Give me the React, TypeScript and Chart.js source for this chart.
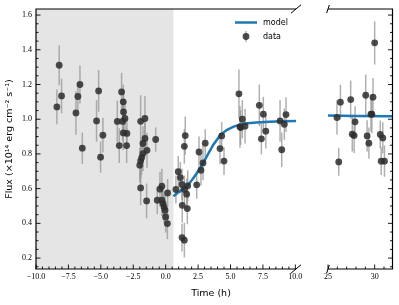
import React, { useEffect, useRef } from "react";
import { Chart, registerables } from "chart.js";
Chart.register(...registerables);

const W = 399;
const H = 305;

// Early-time panel data (hours)
const earlyTime = [
  -8.39, -8.21, -8.03, -6.92, -6.77, -6.61, -6.43, -5.33, -5.17, -5.02, -4.84,
  -3.73, -3.58, -3.40, -3.32, -3.27, -3.25, -3.14, -3.27, -2.99, -3.01,
  -2.00, -1.93, -1.85, -1.75, -1.93, -1.60, -1.60, -1.75, -1.44, -0.77,
  -1.93, -1.47, -0.65, -0.44, -0.29, -0.29, -0.21, -0.13, -0.05, 0.00, 0.13, 0.15,
  0.79, 0.97, 1.13, 1.26, 1.28, 1.26, 1.44, 1.44, 1.62, 1.70, 1.67, 1.51, 1.44,
  2.39, 2.57, 2.72, 2.88, 3.05, 4.19, 4.32, 4.50, 5.65, 5.73, 5.91, 5.78, 6.12,
  7.22, 7.53, 7.72, 7.38, 8.82, 8.95, 9.15, 9.28,
];
const earlyFlux = [
  1.071, 1.311, 1.134, 1.036, 1.131, 1.2, 0.833, 0.99, 1.163, 0.781, 0.908,
  0.987, 0.848, 1.157, 0.987, 1.1, 1.042, 1.004, 0.921, 0.918, 0.848,
  0.735, 0.76, 0.779, 0.802, 0.988, 1.004, 0.889, 0.86, 0.821, 0.883,
  0.604, 0.529, 0.533, 0.597, 0.614, 0.533, 0.514, 0.494, 0.476, 0.437, 0.399, 0.575,
  0.595, 0.698, 0.664, 0.624, 0.504, 0.318, 0.303, 0.595, 0.568, 0.616, 0.485, 0.906, 0.844,
  0.622, 0.811, 0.706, 0.748, 0.862, 0.831, 0.904, 0.759, 1.146, 0.956, 1.0, 0.952, 0.96,
  1.08, 1.029, 0.931, 0.887, 0.99, 0.824, 0.971, 1.027,
];
const earlyErr = [
  0.1, 0.115, 0.1, 0.125, 0.08, 0.11, 0.09, 0.12, 0.12, 0.09, 0.1,
  0.12, 0.1, 0.11, 0.11, 0.1, 0.12, 0.1, 0.1, 0.09, 0.1,
  0.1, 0.1, 0.1, 0.1, 0.15, 0.13, 0.1, 0.1, 0.1, 0.07,
  0.1, 0.1, 0.08, 0.1, 0.1, 0.09, 0.09, 0.09, 0.09, 0.09, 0.09, 0.08,
  0.08, 0.09, 0.09, 0.09, 0.1, 0.08, 0.1, 0.08, 0.09, 0.09, 0.09, 0.11, 0.1,
  0.08, 0.09, 0.09, 0.1, 0.08, 0.09, 0.08, 0.08, 0.14, 0.12, 0.11, 0.1, 0.1,
  0.12, 0.1, 0.1, 0.09, 0.12, 0.1, 0.09, 0.1,
];

// Late-time panel data
const lateTime = [
  25.96, 26.15, 26.33, 27.43, 27.6, 27.8, 27.9, 29.04, 29.19, 29.38, 29.6, 29.7,
  29.82, 30.0, 30.6, 30.7, 30.87, 31.05,
];
const lateFlux = [
  1.01, 0.754, 1.098, 1.113, 0.914, 0.906, 0.985, 1.138, 0.904, 0.862, 1.029, 1.029,
  1.127, 1.44, 0.912, 0.758, 0.892, 0.758,
];
const lateErr = [
  0.1, 0.08, 0.1, 0.11, 0.1, 0.1, 0.09, 0.12, 0.09, 0.09, 0.1, 0.11,
  0.11, 0.125, 0.08, 0.08, 0.09, 0.09,
];

// Model curve
const modelTimeEarly = [0.6, 1.0, 1.6, 2.1, 2.65, 3.15, 3.65, 4.2, 4.7, 5.2, 5.7, 6.1, 7.0, 8.0, 9.0, 10.05];
const modelFluxEarly = [0.556, 0.58, 0.61, 0.657, 0.716, 0.783, 0.85, 0.907, 0.937, 0.956, 0.969, 0.975, 0.981, 0.985, 0.988, 0.99];
const modelTimeLate = [25, 28, 31.91];
const modelFluxLate = [1.021, 1.019, 1.017];

const xTicksEarly = [-10, -7.5, -5, -2.5, 0, 2.5, 5, 7.5, 10];
const xTicksLate = [25, 30];
const yTicks = [0.2, 0.4, 0.6, 0.8, 1.0, 1.2, 1.4, 1.6];
const shadeStart = -10;
const shadeEnd = 0.6;

const Y_MIN = 0.137;
const Y_MAX = 1.635;
const TICK_FONT = { family: "Liberation Serif", size: 8 };
const LABEL_FONT = "9.5px 'DejaVu Sans'";
const LEGEND_FONT = "8px 'DejaVu Sans'";
const POINT_COLOR = "rgba(45,45,45,0.85)";
const ERR_COLOR = "rgba(150,150,150,0.75)";
const MODEL_COLOR = "#1f77b4";

function toXY(xs: number[], ys: number[]) {
  return xs.map((x, i) => ({ x, y: ys[i] }));
}

function fmtTick(v: number, dec: number) {
  return v.toFixed(dec).replace("-", "\u2212");
}

function drawErrorBars(chart: any) {
  const ctx = chart.ctx;
  const xs = chart.scales.x;
  const ys = chart.scales.y;
  const area = chart.chartArea;
  ctx.save();
  ctx.beginPath();
  ctx.rect(area.left, area.top, area.right - area.left, area.bottom - area.top);
  ctx.clip();
  chart.data.datasets.forEach((ds: any) => {
    if (!ds.errors) return;
    ctx.strokeStyle = ERR_COLOR;
    ctx.lineWidth = 1.5;
    ds.data.forEach((p: any, i: number) => {
      const x = xs.getPixelForValue(p.x);
      ctx.beginPath();
      ctx.moveTo(x, ys.getPixelForValue(p.y - ds.errors[i]));
      ctx.lineTo(x, ys.getPixelForValue(p.y + ds.errors[i]));
      ctx.stroke();
    });
  });
  ctx.restore();
}

function drawTicks(ctx: CanvasRenderingContext2D, chart: any, opts: { xMinor: number; side: "left" | "right" }) {
  const xs = chart.scales.x;
  const ys = chart.scales.y;
  const a = chart.chartArea;
  ctx.save();
  ctx.strokeStyle = "#000";
  ctx.lineWidth = 0.9;
  // x ticks (bottom, inward)
  const x0 = xs.min;
  const x1 = xs.max;
  const start = Math.ceil(x0 / opts.xMinor - 1e-9) * opts.xMinor;
  for (let v = start; v <= x1 + 1e-9; v += opts.xMinor) {
    const px = xs.getPixelForValue(v);
    const major = xs.ticks.some((t: any) => Math.abs(t.value - v) < 1e-6);
    const len = major ? 4.5 : 2.5;
    ctx.beginPath();
    ctx.moveTo(px, a.bottom);
    ctx.lineTo(px, a.bottom - len);
    ctx.stroke();
  }
  // y ticks
  const yStart = Math.ceil(Y_MIN / 0.05 - 1e-9) * 0.05;
  for (let v = yStart; v <= Y_MAX + 1e-9; v += 0.05) {
    const py = ys.getPixelForValue(v);
    const major = yTicks.some((t) => Math.abs(t - v) < 1e-6);
    const len = major ? 4.5 : 2.5;
    const bx = opts.side === "left" ? a.left : a.right;
    const dir = opts.side === "left" ? 1 : -1;
    ctx.beginPath();
    ctx.moveTo(bx, py);
    ctx.lineTo(bx + dir * len, py);
    ctx.stroke();
  }
  ctx.restore();
}

const earlyPlugin = {
  id: "earlyPanel",
  beforeDatasetsDraw(chart: any) {
    const ctx = chart.ctx;
    const xs = chart.scales.x;
    const a = chart.chartArea;
    ctx.save();
    ctx.fillStyle = "#e5e5e5";
    const l = xs.getPixelForValue(shadeStart);
    const r = xs.getPixelForValue(shadeEnd);
    ctx.fillRect(l, a.top, r - l, a.bottom - a.top);
    ctx.restore();
    drawErrorBars(chart);
  },
  afterDraw(chart: any) {
    const ctx = chart.ctx as CanvasRenderingContext2D;
    const a = chart.chartArea;
    drawTicks(ctx, chart, { xMinor: 0.5, side: "left" });
    ctx.save();
    ctx.strokeStyle = "#000";
    ctx.lineWidth = 1.2;
    ctx.beginPath();
    ctx.moveTo(a.right, a.top);
    ctx.lineTo(a.left, a.top);
    ctx.lineTo(a.left, a.bottom);
    ctx.lineTo(a.right, a.bottom);
    ctx.stroke();
    // break marks
    ctx.lineWidth = 1.0;
    ctx.beginPath();
    ctx.moveTo(a.right - 5, a.top + 4.2);
    ctx.lineTo(a.right + 5, a.top - 4.2);
    ctx.moveTo(a.right - 5, a.bottom + 4.2);
    ctx.lineTo(a.right + 5, a.bottom - 4.2);
    ctx.stroke();

    // legend
    const lx = 235;
    ctx.strokeStyle = MODEL_COLOR;
    ctx.lineWidth = 2.5;
    ctx.beginPath();
    ctx.moveTo(lx, 22.5);
    ctx.lineTo(lx + 22, 22.5);
    ctx.stroke();
    ctx.strokeStyle = ERR_COLOR;
    ctx.lineWidth = 1.5;
    ctx.beginPath();
    ctx.moveTo(lx + 11, 31);
    ctx.lineTo(lx + 11, 42);
    ctx.stroke();
    ctx.fillStyle = POINT_COLOR;
    ctx.beginPath();
    ctx.arc(lx + 11, 36.5, 3.4, 0, Math.PI * 2);
    ctx.fill();
    ctx.fillStyle = "#000";
    ctx.font = LEGEND_FONT;
    ctx.textBaseline = "middle";
    ctx.textAlign = "left";
    ctx.fillText("model", 263, 23);
    ctx.fillText("data", 263, 37);

    // axis titles
    ctx.font = LABEL_FONT;
    ctx.textAlign = "center";
    ctx.fillText("Time (h)", 211, 294);
    ctx.translate(10, 139);
    ctx.rotate(-Math.PI / 2);
    ctx.fillText("Flux (\u00d710\u00b9\u2074 erg cm\u207b\u00b2 s\u207b\u00b9)", 0, 0);
    ctx.restore();
  },
};

const latePlugin = {
  id: "latePanel",
  beforeDatasetsDraw(chart: any) {
    drawErrorBars(chart);
  },
  afterDraw(chart: any) {
    const ctx = chart.ctx as CanvasRenderingContext2D;
    const a = chart.chartArea;
    drawTicks(ctx, chart, { xMinor: 1, side: "right" });
    ctx.save();
    ctx.strokeStyle = "#000";
    ctx.lineWidth = 1.2;
    ctx.beginPath();
    ctx.moveTo(a.left, a.top);
    ctx.lineTo(a.right, a.top);
    ctx.lineTo(a.right, a.bottom);
    ctx.lineTo(a.left, a.bottom);
    ctx.stroke();
    ctx.lineWidth = 1.0;
    ctx.beginPath();
    ctx.moveTo(a.left - 1.3, a.top + 4);
    ctx.lineTo(a.left + 1.3, a.top - 4);
    ctx.moveTo(a.left - 1.3, a.bottom + 4);
    ctx.lineTo(a.left + 1.3, a.bottom - 4);
    ctx.stroke();
    ctx.restore();
  },
};

function makeConfig(opts: {
  time: number[];
  flux: number[];
  err: number[];
  mt: number[];
  mf: number[];
  xmin: number;
  xmax: number;
  xticks: number[];
  dec: number;
  padding: any;
  yPos: "left" | "right";
  yWidth: number;
  showY: boolean;
  plugin: any;
}): any {
  return {
    type: "scatter",
    data: {
      datasets: [
        {
          label: "data",
          data: toXY(opts.time, opts.flux),
          errors: opts.err,
          pointRadius: 3.4,
          pointBackgroundColor: POINT_COLOR,
          pointBorderColor: POINT_COLOR,
          pointBorderWidth: 0,
          showLine: false,
        },
        {
          label: "model",
          data: toXY(opts.mt, opts.mf),
          showLine: true,
          borderColor: MODEL_COLOR,
          borderWidth: 2.5,
          pointRadius: 0,
          fill: false,
          tension: 0,
        },
      ],
    },
    options: {
      animation: false,
      responsive: false,
      events: [],
      layout: { padding: opts.padding },
      plugins: { legend: { display: false }, tooltip: { enabled: false } },
      scales: {
        x: {
          type: "linear",
          min: opts.xmin,
          max: opts.xmax,
          grid: { display: false, drawTicks: false },
          border: { display: false },
          afterBuildTicks: (s: any) => {
            s.ticks = opts.xticks.map((v) => ({ value: v }));
          },
          afterFit: (s: any) => {
            s.height = 36;
          },
          ticks: {
            autoSkip: false,
            maxRotation: 0,
            padding: 3,
            color: "#000",
            font: TICK_FONT,
            callback: (v: any) => fmtTick(Number(v), opts.dec),
          },
        },
        y: {
          type: "linear",
          position: opts.yPos,
          min: Y_MIN,
          max: Y_MAX,
          grid: { display: false, drawTicks: false },
          border: { display: false },
          afterBuildTicks: (s: any) => {
            s.ticks = yTicks.map((v) => ({ value: v }));
          },
          afterFit: (s: any) => {
            s.width = opts.yWidth;
          },
          ticks: {
            display: opts.showY,
            padding: 4,
            color: "#000",
            font: TICK_FONT,
            callback: (v: any) => Number(v).toFixed(1),
          },
        },
      },
    },
    plugins: [opts.plugin],
  };
}

export default function App() {
  const earlyRef = useRef<HTMLCanvasElement>(null);
  const lateRef = useRef<HTMLCanvasElement>(null);

  useEffect(() => {
    const c1 = new Chart(
      earlyRef.current!,
      makeConfig({
        time: earlyTime,
        flux: earlyFlux,
        err: earlyErr,
        mt: modelTimeEarly,
        mf: modelFluxEarly,
        xmin: -10,
        xmax: 10.05,
        xticks: xTicksEarly,
        dec: 1,
        padding: { top: 9, right: 103, left: 0, bottom: 0 },
        yPos: "left",
        yWidth: 36,
        showY: true,
        plugin: earlyPlugin,
      })
    );
    const c2 = new Chart(
      lateRef.current!,
      makeConfig({
        time: lateTime,
        flux: lateFlux,
        err: lateErr,
        mt: modelTimeLate,
        mf: modelFluxLate,
        xmin: 25,
        xmax: 31.91,
        xticks: xTicksLate,
        dec: 0,
        padding: { top: 9, right: 0, left: 328, bottom: 0 },
        yPos: "right",
        yWidth: 6.5,
        showY: false,
        plugin: latePlugin,
      })
    );
    return () => {
      c1.destroy();
      c2.destroy();
    };
  }, []);

  return (
    <div style={{ position: "fixed", left: 0, top: 0, width: W, height: H, background: "#fff" }}>
      <canvas ref={earlyRef} width={W} height={H} style={{ position: "absolute", left: 0, top: 0 }} />
      <canvas ref={lateRef} width={W} height={H} style={{ position: "absolute", left: 0, top: 0 }} />
    </div>
  );
}
